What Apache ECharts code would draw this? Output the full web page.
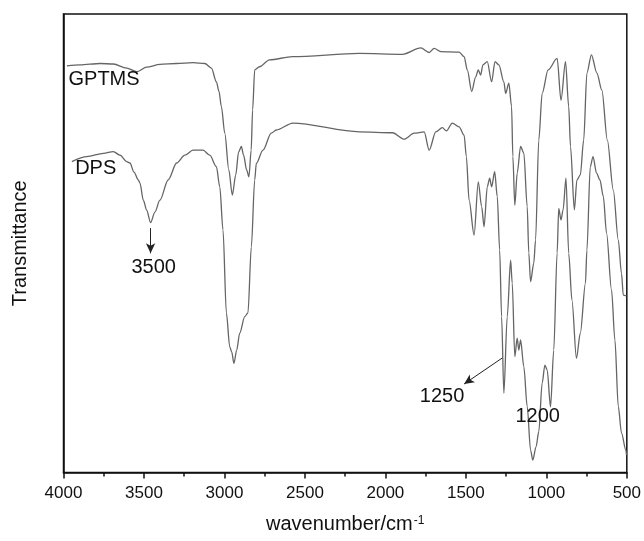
<!DOCTYPE html>
<html>
<head>
<meta charset="utf-8">
<script src="https://cdn.jsdelivr.net/npm/echarts@6/dist/echarts.min.js"></script>
<style>
html,body{margin:0;padding:0;background:#fff;}
#main{width:644px;height:541px;}
</style>
</head>
<body>
<div id="main"></div>
<script>
// x tick labels (wavenumber, cm-1)
var xTicks = [4000, 3500, 3000, 2500, 2000, 1500, 1000, 500];

// GPTMS spectrum: wavenumber / transmittance (arbitrary units)
var gptmsWn = [3979,3897,3773,3690,3607,3545,3483,3401,3297,3195,3122,3081,3050,3034,3019,2998,2973,2951,2930,2912,2895,2881,2862,2848,2834,2825,2812,2782,2720,2577,2162,1894,1780,1728,1697,1656,1542,1511,1491,1464,1439,1423,1408,1394,1367,1340,1319,1295,1264,1253,1233,1216,1208,1196,1181,1160,1140,1119,1109,1098,1078,1067,1047,1026,989,933,909,881,861,850,826,810,789,768,748,720,686,655,621,584,553,533,522,502];
var gptmsT  = [88.7,88.9,89.2,89.1,88.2,87.4,88.4,89.0,89.2,89.4,89.2,88.2,85.2,83.1,79.8,74.0,66.0,60.5,64.9,69.9,71.1,69.2,66.0,64.5,70.3,79.1,87.8,88.5,90.0,90.7,91.4,91.2,92.6,91.6,92.5,91.8,91.7,90.7,87.8,83.1,86.3,87.8,86.7,88.9,89.6,85.2,89.6,88.9,85.2,82.7,84.9,79.8,68.9,58.3,65.3,71.1,69.7,58.0,47.9,41.6,45.7,50.7,72.5,82.7,87.8,90.3,81.2,89.6,79.8,71.1,57.3,63.8,64.9,72.5,87.1,91.1,87.1,83.4,72.5,61.6,50.7,43.4,38.7,38.5];

// DPS spectrum
var dpsWn = [3948,3855,3752,3690,3649,3607,3587,3562,3535,3525,3504,3483,3459,3432,3401,3350,3297,3246,3195,3133,3091,3050,3029,3009,2988,2967,2955,2941,2924,2905,2874,2854,2833,2812,2802,2761,2709,2678,2575,2162,1956,1883,1821,1759,1728,1687,1646,1621,1584,1542,1511,1497,1480,1449,1423,1402,1387,1367,1352,1340,1321,1305,1290,1278,1264,1243,1222,1212,1196,1181,1171,1160,1140,1119,1098,1084,1064,1047,1026,1009,995,974,954,933,923,909,896,878,861,841,813,789,757,748,727,710,688,667,646,626,595,574,553,533,506,502];
var dpsT  = [67.8,68.9,69.6,70.0,69.2,67.8,67.5,65.5,63.8,63.1,59.4,57.2,54.5,56.8,59.4,63.8,67.5,69.2,70.3,70.3,69.2,66.7,62.3,52.9,34.8,27.4,26.3,23.8,26.7,30.4,34.0,34.8,49.2,63.8,67.4,70.3,74.0,74.7,76.2,74.3,74.1,72.7,74.0,74.3,70.3,74.3,75.2,74.5,76.2,75.4,73.6,68.9,59.4,51.8,63.4,58.0,53.6,62.3,64.2,62.3,65.6,60.2,48.5,34.0,17.3,34.0,46.3,41.3,25.3,29.3,26.7,28.9,23.1,14.4,4.9,2.7,5.6,8.9,19.5,23.4,22.4,14.3,26.7,47.9,57.6,55.1,57.3,64.2,47.8,37.6,24.9,30.4,41.3,48.5,66.7,68.9,65.3,63.8,60.2,52.2,39.8,28.9,14.4,8.6,4.9,3.8];

// annotation texts and their anchor points (data coordinates)
var annoText = ['GPTMS', 'DPS', '3500', '1250', '1200'];
var annoWn   = [3748, 3800, 3440, 1648, 1054];
var annoT    = [85.8, 66.2, 44.8, 16.6, 12.2];
// arrows: start -> end (data coordinates)
var arrowFromWn = [3459, 1273];
var arrowFromT  = [53.3, 25.0];
var arrowToWn   = [3459, 1511];
var arrowToT    = [47.8, 19.3];

function pairs(a, b){ return a.map(function(v,i){ return [v, b[i]]; }); }

var chart = echarts.init(document.getElementById('main'), null, {renderer:'canvas'});
var FONT = 'Liberation Sans, Arial, sans-serif';
var lineColor = '#656565';

var option = {
  animation: false,
  backgroundColor: '#fff',
  grid: {left: 63.5, right: 16, top: 14, bottom: 68.5, show: true, borderColor: '#111', borderWidth: 1.5, backgroundColor: 'transparent'},
  xAxis: {
    type: 'value', inverse: true, min: 500, max: 4000, interval: 500,
    name: '{a|wavenumber/cm}{b|-1}', nameLocation: 'middle', nameGap: 42,
    nameTextStyle: {rich: {a: {fontSize: 20, fontFamily: FONT, color: '#111'}, b: {fontSize: 12, fontFamily: FONT, color: '#111', verticalAlign: 'top', padding:[0,0,0,1]}}},
    axisLine: {lineStyle: {color: '#111', width: 1.5}},
    axisTick: {show: true, length: 6, lineStyle: {color: '#111', width: 1.5}},
    minorTick: {show: true, splitNumber: 2, length: 4, lineStyle: {color: '#111', width: 1.5}},
    splitLine: {show: false},
    axisLabel: {fontSize: 17, fontFamily: FONT, color: '#111', margin: 12,
      formatter: function(v){ return xTicks.indexOf(v) >= 0 ? String(v) : ''; }}
  },
  yAxis: {
    type: 'value', min: 0, max: 100,
    name: 'Transmittance', nameLocation: 'middle', nameGap: 33,
    nameTextStyle: {fontSize: 20, fontFamily: FONT, color: '#111'},
    axisLine: {show: true, lineStyle: {color: '#111', width: 1.5}},
    axisTick: {show: false}, axisLabel: {show: false}, splitLine: {show: false}
  },
  series: [
    {
      name: 'GPTMS', type: 'line', data: pairs(gptmsWn, gptmsT), showSymbol: false,
      smooth: 0.3, smoothMonotone: 'x',
      lineStyle: {color: lineColor, width: 1.3}
    },
    {
      name: 'DPS', type: 'line', data: pairs(dpsWn, dpsT), showSymbol: false,
      smooth: 0.3, smoothMonotone: 'x',
      lineStyle: {color: lineColor, width: 1.3},
      markLine: {
        silent: true, symbol: ['none', 'arrow'], symbolSize: [7, 10],
        lineStyle: {color: '#222', width: 1, type: 'solid'},
        label: {show: false},
        data: arrowFromWn.map(function(w, i){
          return [{coord: [w, arrowFromT[i]]}, {coord: [arrowToWn[i], arrowToT[i]]}];
        })
      },
      markPoint: {
        silent: true, symbol: 'circle', symbolSize: 0,
        label: {show: true, position: 'inside', fontSize: 20, fontFamily: FONT, color: '#111',
          formatter: function(p){ return p.name; }},
        data: annoText.map(function(t, i){ return {name: t, coord: [annoWn[i], annoT[i]]}; })
      }
    }
  ]
};
chart.setOption(option);
</script>
</body>
</html>
